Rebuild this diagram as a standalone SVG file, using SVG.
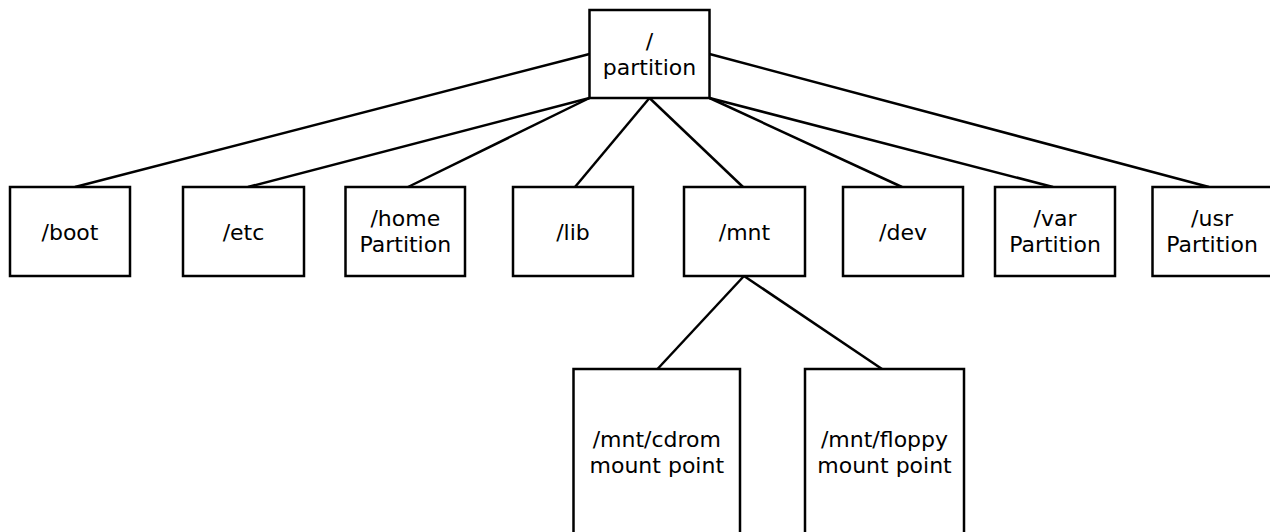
<svg xmlns="http://www.w3.org/2000/svg" width="1270" height="532" viewBox="0 0 1270 532">
<style>
.box{fill:#fff;stroke:#000;stroke-width:2.5}
.edge{stroke:#000;stroke-width:2.5;fill:none}
text{font-family:"DejaVu Sans","Liberation Sans",sans-serif;font-size:22px;fill:#000;text-anchor:middle}
</style>
<rect width="1270" height="532" fill="#fff"/>
<g id="connectors">
<line class="edge" x1="589.5" y1="54" x2="75" y2="187"/>
<line class="edge" x1="589.5" y1="98" x2="248" y2="187"/>
<line class="edge" x1="589.5" y1="98" x2="408" y2="187"/>
<line class="edge" x1="649.5" y1="98" x2="575" y2="187"/>
<line class="edge" x1="649.5" y1="98" x2="743" y2="187"/>
<line class="edge" x1="709.5" y1="98" x2="902" y2="187"/>
<line class="edge" x1="709.5" y1="98" x2="1053" y2="187"/>
<line class="edge" x1="709.5" y1="54" x2="1209" y2="187"/>
<line class="edge" x1="744" y1="276" x2="657.5" y2="369"/>
<line class="edge" x1="744" y1="276" x2="882" y2="369"/>
</g>
<g id="root">
<rect class="box" x="589.5" y="10" width="120" height="88"/>
<text x="649.5" y="48.5">/</text>
<text x="649.5" y="75">partition</text>
</g>
<g id="boot">
<rect class="box" x="10" y="187" width="120" height="89"/>
<text x="70" y="239.5">/boot</text>
</g>
<g id="etc">
<rect class="box" x="183" y="187" width="121" height="89"/>
<text x="243.5" y="239.5">/etc</text>
</g>
<g id="home">
<rect class="box" x="345.5" y="187" width="119.5" height="89"/>
<text x="405.3" y="225.5">/home</text>
<text x="405.3" y="252">Partition</text>
</g>
<g id="lib">
<rect class="box" x="513" y="187" width="120" height="89"/>
<text x="573" y="239.5">/lib</text>
</g>
<g id="mnt">
<rect class="box" x="684" y="187" width="121" height="89"/>
<text x="744.5" y="239.5">/mnt</text>
</g>
<g id="dev">
<rect class="box" x="843" y="187" width="120" height="89"/>
<text x="903" y="239.5">/dev</text>
</g>
<g id="var">
<rect class="box" x="995" y="187" width="120" height="89"/>
<text x="1055" y="225.5">/var</text>
<text x="1055" y="252">Partition</text>
</g>
<g id="usr">
<rect class="box" x="1152.5" y="187" width="120" height="89"/>
<text x="1212" y="225.5">/usr</text>
<text x="1212" y="252">Partition</text>
</g>
<g id="cdrom">
<rect class="box" x="573.5" y="369" width="166.5" height="170"/>
<text x="656.8" y="446.5">/mnt/cdrom</text>
<text x="656.8" y="472.5">mount point</text>
</g>
<g id="floppy">
<rect class="box" x="805" y="369" width="159" height="170"/>
<text x="884.5" y="446.5">/mnt/floppy</text>
<text x="884.5" y="472.5">mount point</text>
</g>
</svg>
